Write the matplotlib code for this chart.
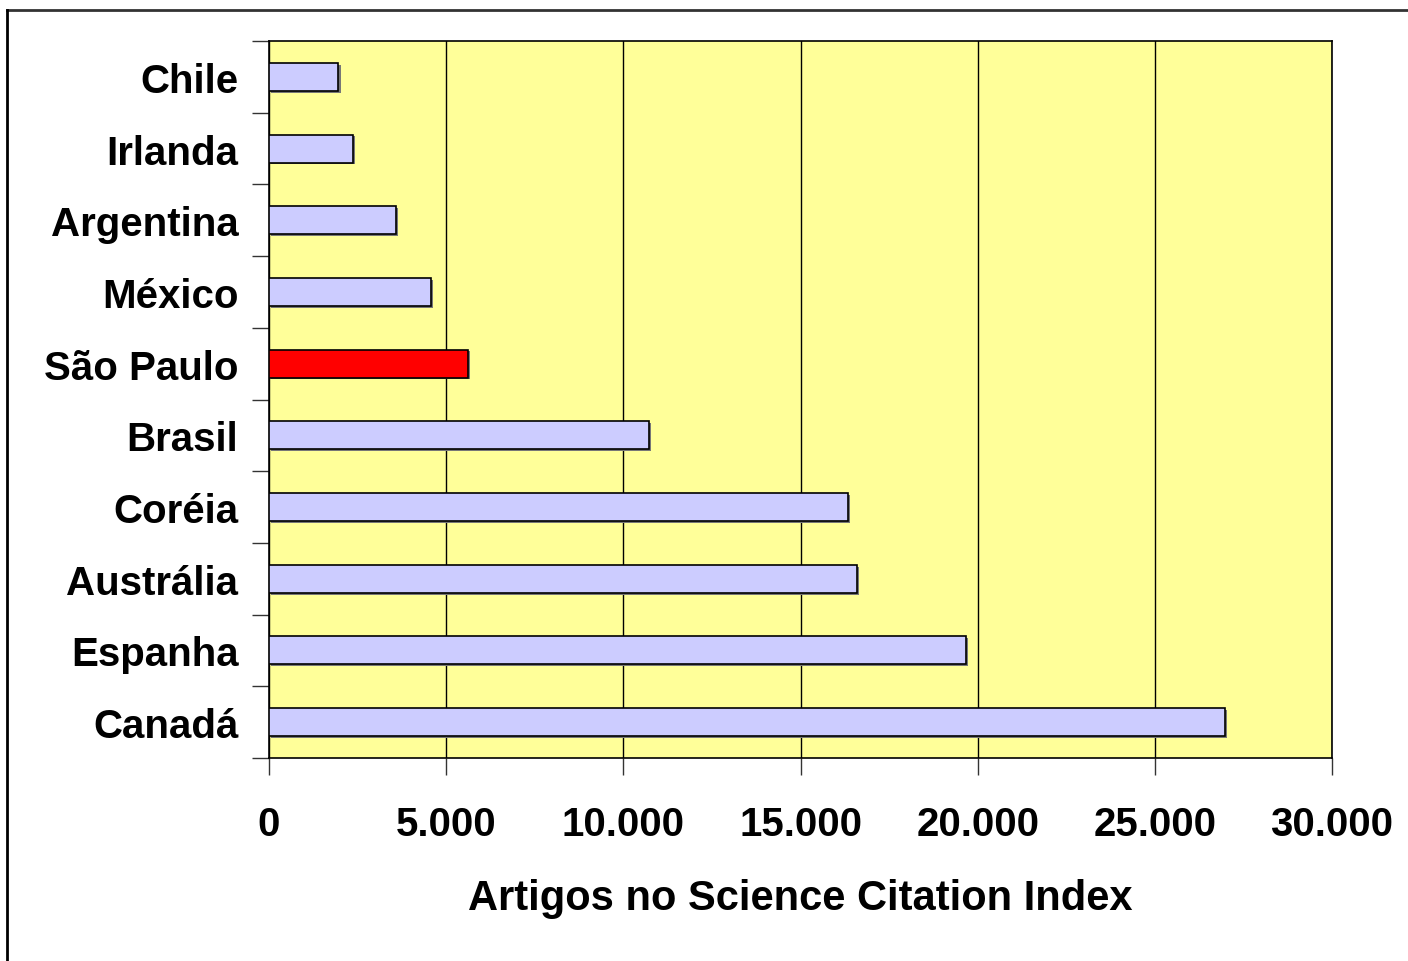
import matplotlib.pyplot as plt
from matplotlib.patches import Rectangle
from matplotlib.ticker import FuncFormatter, FixedLocator

# Articles in the Science Citation Index, by country/state
paises = ["Canadá", "Espanha", "Austrália", "Coréia", "Brasil",
          "São Paulo", "México", "Argentina", "Irlanda", "Chile"]
artigos = [26990, 19670, 16590, 16340, 10730, 5620, 4570, 3590, 2360, 1960]
destaque = "São Paulo"

xticks = [0, 5000, 10000, 15000, 20000, 25000, 30000]

plt.rcParams['font.family'] = ['Liberation Sans', 'DejaVu Sans']

fig = plt.figure(figsize=(14.08, 9.62), dpi=100)
ax = fig.add_axes([269 / 1408, 1 - 759 / 962, 1063 / 1408, 717 / 962])
ax.set_facecolor('#ffff99')

cores = ['#ff0000' if p == destaque else '#ccccff' for p in paises]
pos = list(range(len(paises)))

# thin grey drop shadow under each bar
for y, v in zip(pos, artigos):
    ax.add_patch(Rectangle((60, y - 0.195 - 0.025), v, 0.39,
                           facecolor='#777777', edgecolor='none', zorder=2))
ax.barh(pos, artigos, height=0.39, color=cores, edgecolor='black',
        linewidth=1.2, zorder=3)

ax.set_xlim(0, 30000)
ax.set_ylim(-0.5, len(paises) - 0.5)

ax.xaxis.set_major_locator(FixedLocator(xticks))
ax.xaxis.set_major_formatter(FuncFormatter(lambda v, p: f"{int(v):,}".replace(",", ".")))
ax.grid(axis='x', color='black', linewidth=1, zorder=1)

# category labels centred on bars, ticks on category boundaries
ax.set_yticks(pos)
ax.set_yticklabels(paises)
ax.set_yticks([i - 0.5 for i in range(len(paises) + 1)], minor=True)
ax.tick_params(axis='y', which='major', length=0, pad=22, labelsize=29)
ax.tick_params(axis='y', which='minor', length=12, width=1, color='#333333')
ax.tick_params(axis='x', length=12, width=1, color='#333333', pad=22, labelsize=29)
for lab in ax.get_xticklabels() + ax.get_yticklabels():
    lab.set_fontweight('bold')

for s in ['top', 'right', 'bottom', 'left']:
    ax.spines[s].set_color('black')
    ax.spines[s].set_linewidth(1.2)

ax.set_xlabel("Artigos no Science Citation Index", fontsize=30,
              fontweight='bold', labelpad=25)

# outer frame (top and left edges visible)
fig.add_artist(plt.Line2D([7 / 1408, 1.0], [1 - 11 / 962, 1 - 11 / 962],
                          color='#333333', linewidth=2))
fig.add_artist(plt.Line2D([7 / 1408, 7 / 1408], [0.0, 1 - 11 / 962],
                          color='black', linewidth=2))

fig.savefig('out.png', dpi=100, facecolor='white')
